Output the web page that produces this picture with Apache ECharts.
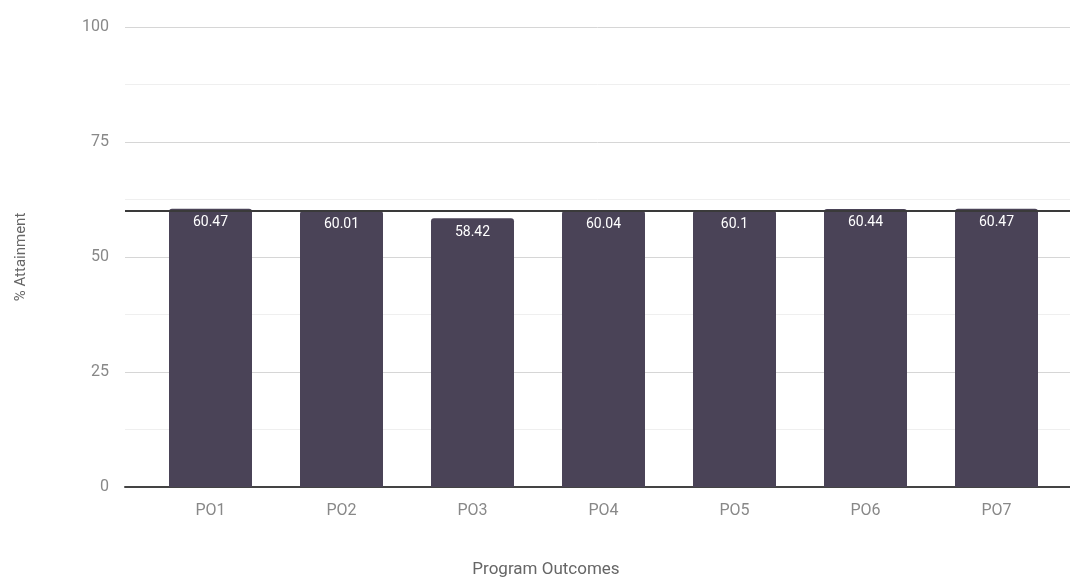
<!DOCTYPE html>
<html lang="en">
<head>
    <meta charset="UTF-8">
    <title>Program Outcomes</title>
</head>
<body style="margin:0">
<div id='main' style="height: 581px;width: 1070px"></div>
</body>
<script src="https://cdn.jsdelivr.net/npm/echarts@6/dist/echarts.min.js"></script>
<script>
    var categories = ['PO1', 'PO2', 'PO3', 'PO4', 'PO5', 'PO6', 'PO7'];
    var attainment = [60.47, 60.01, 58.42, 60.04, 60.1, 60.44, 60.47];
    var targetLine = 60;
    var yTicks = [0, 25, 50, 75, 100];

    var myChart = echarts.init(document.getElementById('main'));
    var font = 'Roboto';

    var option = {
        backgroundColor: '#fff',
        textStyle: {fontFamily: font},
        title: {
            text: 'Program Outcomes',
            left: 541,
            top: 556,
            textAlign: 'center',
            textStyle: {color: '#666', fontSize: 17, fontWeight: 'normal', fontFamily: font}
        },
        grid: [
            // background grid: gridlines, y labels, baseline
            {left: 125, right: 0, top: 27, bottom: 94},
            // bar grid
            {left: 145, width: 917, top: 27, bottom: 94}
        ],
        xAxis: [{
            gridIndex: 0,
            type: 'category',
            data: categories,
            axisLine: {lineStyle: {color: '#444', width: 2}},
            axisTick: {show: false},
            axisLabel: {show: false}
        }, {
            gridIndex: 1,
            type: 'category',
            data: categories,
            axisLine: {show: false},
            axisTick: {show: false},
            axisLabel: {color: '#888', fontSize: 16, margin: 16}
        }],
        yAxis: [{
            gridIndex: 0,
            type: 'value',
            min: yTicks[0],
            max: yTicks[yTicks.length - 1],
            interval: 25,
            name: '% Attainment',
            nameLocation: 'middle',
            nameGap: 96,
            nameTextStyle: {color: '#666', fontSize: 15},
            axisLabel: {color: '#888', fontSize: 16, margin: 16},
            splitLine: {lineStyle: {color: '#d6d6d6'}},
            minorTick: {show: false, splitNumber: 2},
            minorSplitLine: {show: true, lineStyle: {color: '#efefef'}}
        }, {
            gridIndex: 1,
            type: 'value',
            min: yTicks[0],
            max: yTicks[yTicks.length - 1],
            show: false
        }],
        series: [{
            type: 'line',
            xAxisIndex: 0,
            yAxisIndex: 0,
            data: [],
            silent: true,
            markLine: {
                symbol: 'none',
                silent: true,
                label: {show: false},
                lineStyle: {color: '#3a3a3a', width: 2, type: 'solid'},
                data: [{yAxis: targetLine}]
            }
        }, {
            type: 'bar',
            xAxisIndex: 1,
            yAxisIndex: 1,
            data: attainment,
            barWidth: 83,
            itemStyle: {color: '#4a4357', borderRadius: [3, 3, 0, 0]},
            label: {
                show: true,
                position: 'insideTop',
                distance: 7,
                color: '#fff',
                fontSize: 14
            }
        }]
    };
    myChart.setOption(option);
</script>
</html>
